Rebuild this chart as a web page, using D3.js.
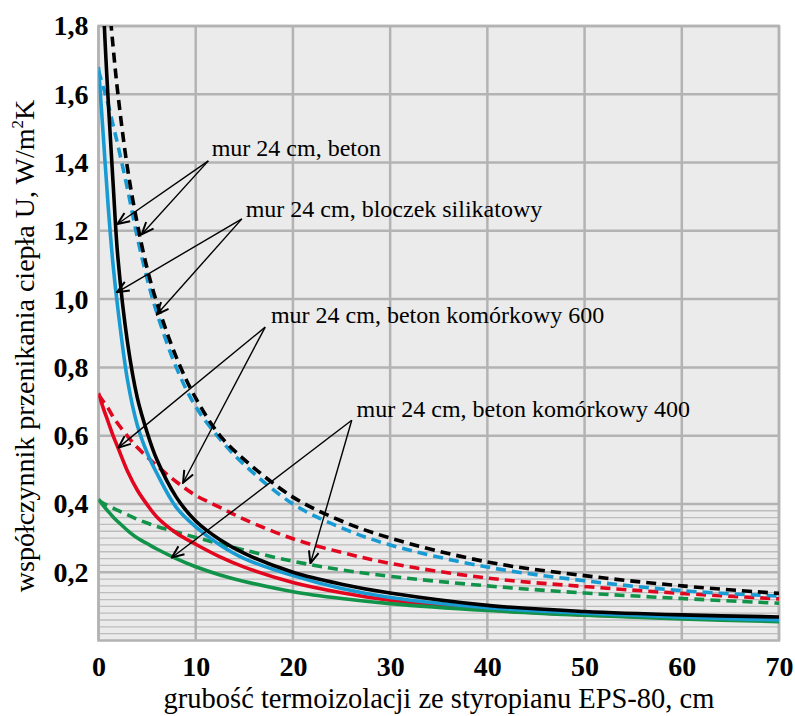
<!DOCTYPE html>
<html>
<head>
<meta charset="utf-8">
<script src="https://cdn.jsdelivr.net/npm/d3@7"></script>
<style>
  body { margin: 0; background: #fff; }
  svg text { font-family: "Liberation Serif", "Times New Roman", serif; }
</style>
</head>
<body>
<script>
// grubość izolacji, cm
var thickness = [0, 0.5, 1, 1.5, 2, 3, 4, 5, 6, 8, 10, 12.5, 15, 20, 25, 30, 40, 50, 60, 70];

// linie ciągłe
var uBeton   = [2.45, 1.87, 1.58, 1.34, 1.12, 0.87, 0.71, 0.61, 0.53, 0.42, 0.35, 0.295, 0.255, 0.2, 0.165, 0.139, 0.103, 0.085, 0.075, 0.069];
var uSilikat = [1.68, 1.475, 1.27, 1.1, 0.97, 0.76, 0.63, 0.55, 0.49, 0.39, 0.333, 0.28, 0.24, 0.19, 0.152, 0.126, 0.096, 0.08, 0.068, 0.06];
var uKom600  = [0.725, 0.68, 0.64, 0.6, 0.565, 0.495, 0.44, 0.398, 0.362, 0.315, 0.282, 0.245, 0.215, 0.17, 0.14, 0.118, 0.09, 0.075, 0.065, 0.058];
var uKom400  = [0.414, 0.395, 0.378, 0.362, 0.348, 0.322, 0.3, 0.284, 0.268, 0.24, 0.216, 0.192, 0.173, 0.143, 0.123, 0.108, 0.088, 0.074, 0.063, 0.055];

// linie przerywane
var uBetonD   = [2.33, 2.09, 1.9, 1.74, 1.6, 1.38, 1.22, 1.09, 0.99, 0.83, 0.71, 0.6, 0.53, 0.42, 0.35, 0.3, 0.23, 0.19, 0.16, 0.138];
var uSilikatD = [1.67, 1.62, 1.57, 1.51, 1.45, 1.32, 1.18, 1.06, 0.96, 0.8, 0.685, 0.59, 0.515, 0.4, 0.33, 0.28, 0.215, 0.175, 0.146, 0.13];
var uKom600D  = [0.72, 0.7, 0.68, 0.655, 0.635, 0.598, 0.565, 0.538, 0.512, 0.465, 0.425, 0.39, 0.355, 0.298, 0.258, 0.226, 0.183, 0.158, 0.138, 0.122];
var uKom400D  = [0.41, 0.402, 0.395, 0.388, 0.381, 0.368, 0.355, 0.344, 0.334, 0.318, 0.302, 0.283, 0.265, 0.232, 0.207, 0.188, 0.16, 0.139, 0.123, 0.109];

var xTicks = [0, 10, 20, 30, 40, 50, 60, 70];
var yTicks = [0.2, 0.4, 0.6, 0.8, 1.0, 1.2, 1.4, 1.6, 1.8];
var yTickLabels = ["0,2", "0,4", "0,6", "0,8", "1,0", "1,2", "1,4", "1,6", "1,8"];

var labels = ["mur 24 cm, beton", "mur 24 cm, bloczek silikatowy",
              "mur 24 cm, beton komórkowy 600", "mur 24 cm, beton komórkowy 400"];

var W = 795, H = 716;
var x = d3.scaleLinear().domain([0, 70]).range([98.5, 779]);
var y = d3.scaleLinear().domain([0, 1.8]).range([640.5, 26]);

var svg = d3.select("body").append("svg")
    .attr("width", W)
    .attr("height", H);

svg.append("defs").append("clipPath").attr("id", "plot")
    .append("rect")
    .attr("x", x(0)).attr("y", y(1.8))
    .attr("width", x(70) - x(0)).attr("height", y(0) - y(1.8));

svg.append("defs").append("marker")
    .attr("id", "arr")
    .attr("viewBox", "0 0 14 14")
    .attr("refX", 13).attr("refY", 7)
    .attr("markerWidth", 14).attr("markerHeight", 14)
    .attr("markerUnits", "userSpaceOnUse")
    .attr("orient", "auto")
    .append("path")
    .attr("d", "M1,2 L13,7 L1,12")
    .attr("fill", "none")
    .attr("stroke", "#000")
    .attr("stroke-width", 2);

svg.append("rect")
    .attr("x", x(0)).attr("y", y(1.8))
    .attr("width", x(70) - x(0)).attr("height", y(0) - y(1.8))
    .attr("fill", "#ebebeb");

// drobna siatka ponizej 0,4
var minor = d3.range(1, 20).map(function(i) { return i * 0.02; });
svg.selectAll(".minor")
    .data(minor)
    .enter().append("line")
    .attr("class", "minor")
    .attr("x1", x(0)).attr("x2", x(70))
    .attr("y1", function(d) { return y(d); })
    .attr("y2", function(d) { return y(d); })
    .attr("stroke", "#bdbdbd")
    .attr("stroke-width", 1.3);

svg.selectAll(".hgrid")
    .data(yTicks)
    .enter().append("line")
    .attr("class", "hgrid")
    .attr("x1", x(0)).attr("x2", x(70))
    .attr("y1", function(d) { return y(d); })
    .attr("y2", function(d) { return y(d); })
    .attr("stroke", "#b3b3b3")
    .attr("stroke-width", 2.5);

svg.selectAll(".vgrid")
    .data(xTicks)
    .enter().append("line")
    .attr("class", "vgrid")
    .attr("y1", y(0)).attr("y2", y(1.8))
    .attr("x1", function(d) { return x(d); })
    .attr("x2", function(d) { return x(d); })
    .attr("stroke", "#b3b3b3")
    .attr("stroke-width", 2.5);

svg.append("rect")
    .attr("x", x(0)).attr("y", y(1.8))
    .attr("width", x(70) - x(0)).attr("height", y(0) - y(1.8))
    .attr("fill", "none")
    .attr("stroke", "#b3b3b3")
    .attr("stroke-width", 2.5);

var line = d3.line()
    .x(function(d, i) { return x(thickness[i]); })
    .y(function(d) { return y(d); })
    .curve(d3.curveCatmullRom.alpha(0.5));

var series = [
    { v: uKom400D, c: "#12934a", dash: true },
    { v: uKom600D, c: "#e3061f", dash: true },
    { v: uSilikatD, c: "#189ad3", dash: true },
    { v: uBetonD, c: "#000000", dash: true },
    { v: uKom600, c: "#e3061f", dash: false },
    { v: uKom400, c: "#12934a", dash: false },
    { v: uSilikat, c: "#189ad3", dash: false },
    { v: uBeton, c: "#000000", dash: false }
];

var g = svg.append("g").attr("clip-path", "url(#plot)");
g.selectAll("path")
    .data(series)
    .enter().append("path")
    .attr("d", function(s) { return line(s.v); })
    .attr("fill", "none")
    .attr("stroke", function(s) { return s.c; })
    .attr("stroke-width", 3.6)
    .attr("stroke-dasharray", function(s) { return s.dash ? "10,6" : null; });

// adnotacje ze strzalkami
var notes = [
    { t: labels[0], tx: 11.64, ty: 1.419, ox: 11.3, oy: 1.405, tips: [[1.95, 1.22], [4.45, 1.19]] },
    { t: labels[1], tx: 15.14, ty: 1.24, ox: 14.75, oy: 1.235, tips: [[1.9, 1.02], [6.0, 0.955]] },
    { t: labels[2], tx: 17.74, ty: 0.93, ox: 17.15, oy: 0.918, tips: [[2.05, 0.565], [8.7, 0.462]] },
    { t: labels[3], tx: 26.55, ty: 0.655, ox: 26.05, oy: 0.645, tips: [[7.55, 0.243], [21.8, 0.226]] }
];

notes.forEach(function(n) {
    n.tips.forEach(function(tp) {
        svg.append("line")
            .attr("x1", x(n.ox)).attr("y1", y(n.oy))
            .attr("x2", x(tp[0])).attr("y2", y(tp[1]))
            .attr("stroke", "#000")
            .attr("stroke-width", 1.4)
            .attr("marker-end", "url(#arr)");
    });
    svg.append("text")
        .attr("x", x(n.tx))
        .attr("y", y(n.ty))
        .attr("font-size", 24)
        .attr("fill", "#000")
        .text(n.t);
});

// osie
var xAxis = svg.append("g")
    .attr("transform", "translate(0," + y(0) + ")")
    .call(d3.axisBottom(x).tickValues(xTicks).tickSize(0).tickPadding(10));
var yAxis = svg.append("g")
    .attr("transform", "translate(" + x(0) + ",0)")
    .call(d3.axisLeft(y).tickValues(yTicks).tickSize(0).tickPadding(10)
        .tickFormat(function(d, i) { return yTickLabels[i]; }));

[xAxis, yAxis].forEach(function(a) {
    a.select(".domain").remove();
    a.selectAll("text")
        .style("font-family", "'Liberation Serif', serif")
        .attr("font-weight", "bold")
        .attr("font-size", 28)
        .attr("fill", "#000");
});
xAxis.selectAll("text").attr("dy", "0.9em");

svg.append("text")
    .attr("x", 439)
    .attr("y", 708)
    .attr("text-anchor", "middle")
    .attr("font-size", 28.5)
    .text("grubość termoizolacji ze styropianu EPS-80, cm");

var yt = svg.append("text")
    .attr("transform", "translate(34,346) rotate(-90)")
    .attr("text-anchor", "middle")
    .attr("font-size", 28);
yt.append("tspan").text("współczynnik przenikania ciepła U, W/m");
yt.append("tspan").attr("font-size", 17).attr("dy", -11).text("2");
yt.append("tspan").attr("dy", 11).text("K");
</script>
</body>
</html>
